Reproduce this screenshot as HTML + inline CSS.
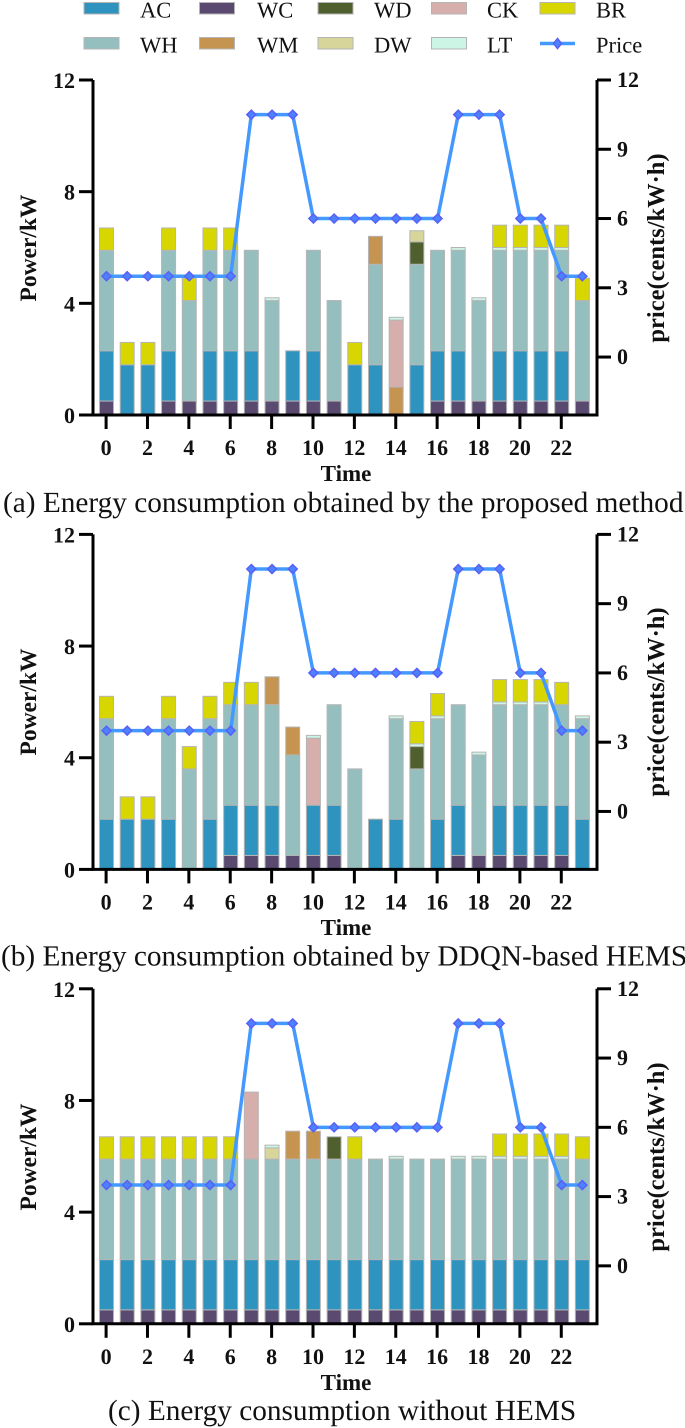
<!DOCTYPE html>
<html lang="en">
<head>
<meta charset="utf-8">
<title>Energy consumption comparison</title>
<style>
html,body{margin:0;padding:0;background:#fff;width:685px;height:1428px;overflow:hidden}
svg{display:block}
text{font-family:"Liberation Serif","DejaVu Serif",serif;fill:#111;text-rendering:geometricPrecision}
.leg{font-size:22.5px;dominant-baseline:central}
.tick{font-size:22px;font-weight:bold}
.title{font-size:23px;font-weight:bold}
.ptitle{font-size:23.5px;font-weight:bold}
.rtitle{font-size:24.5px;font-weight:bold}
.cap{font-size:29.3px}
</style>
</head>
<body>
<svg id="chart" xmlns="http://www.w3.org/2000/svg" width="685" height="1428" viewBox="0 0 685 1428">
  <g id="legend">
    <g><rect x="84" y="2.5" width="35" height="11.5" fill="#2e94bf" stroke="#b5b5b5"/><text class="leg" x="140" y="10">AC</text></g>
    <g><rect x="199.5" y="2.5" width="35" height="11.5" fill="#5a4a70" stroke="#b5b5b5"/><text class="leg" x="257" y="10">WC</text></g>
    <g><rect x="318" y="2.5" width="35" height="11.5" fill="#505f2e" stroke="#b5b5b5"/><text class="leg" x="374" y="10">WD</text></g>
    <g><rect x="431.5" y="2.5" width="35" height="11.5" fill="#d6aeac" stroke="#b5b5b5"/><text class="leg" x="487" y="10">CK</text></g>
    <g><rect x="540" y="2.5" width="35" height="11.5" fill="#d8d600" stroke="#b5b5b5"/><text class="leg" x="596" y="10">BR</text></g>
    <g><rect x="84" y="37.5" width="35" height="11.5" fill="#95bfbe" stroke="#b5b5b5"/><text class="leg" x="140" y="45">WH</text></g>
    <g><rect x="199.5" y="37.5" width="35" height="11.5" fill="#c59450" stroke="#b5b5b5"/><text class="leg" x="257" y="45">WM</text></g>
    <g><rect x="318" y="37.5" width="35" height="11.5" fill="#d8d59a" stroke="#b5b5b5"/><text class="leg" x="374" y="45">DW</text></g>
    <g><rect x="431.5" y="37.5" width="35" height="11.5" fill="#ccf5e6" stroke="#b5b5b5"/><text class="leg" x="487" y="45">LT</text></g>
    <g><line x1="540" y1="43.5" x2="575" y2="43.5" stroke="#4499ff" stroke-width="3.5"/><polygon points="557.5,38.5 561.5,43.5 557.5,48.5 553.5,43.5" fill="#4a82ff" stroke="#5a60f5" stroke-width="1.5"/><text class="leg" x="596" y="45">Price</text></g>
  </g>

  <text class="ptitle" text-anchor="middle" transform="translate(36 248) rotate(-90)">Power/kW</text>
  <text class="ptitle" text-anchor="middle" transform="translate(36 702) rotate(-90)">Power/kW</text>
  <text class="ptitle" text-anchor="middle" transform="translate(36 1157) rotate(-90)">Power/kW</text>

  <text class="rtitle" text-anchor="middle" transform="translate(664 248) rotate(-90)">price(cents/kW·h)</text>
  <text class="rtitle" text-anchor="middle" transform="translate(664 702) rotate(-90)">price(cents/kW·h)</text>
  <text class="rtitle" text-anchor="middle" transform="translate(664 1157) rotate(-90)">price(cents/kW·h)</text>

  <text class="title" text-anchor="middle" x="346" y="481">Time</text>
  <text class="title" text-anchor="middle" x="346" y="935">Time</text>
  <text class="title" text-anchor="middle" x="346" y="1390">Time</text>

  <text class="cap" x="3" y="512">(a) Energy consumption obtained by the proposed method</text>
  <text class="cap" x="1" y="965.5">(b) Energy consumption obtained by DDQN-based HEMS</text>
  <text class="cap" x="108" y="1420">(c) Energy consumption without HEMS</text>
</svg>
<script>
// Shared data
const hours = [0,1,2,3,4,5,6,7,8,9,10,11,12,13,14,15,16,17,18,19,20,21,22,23];
const hourTicks = [0,2,4,6,8,10,12,14,16,18,20,22];
const powerTicks = [0,4,8,12];
const priceTicks = [0,3,6,9,12];
const price = [3.5,3.5,3.5,3.5,3.5,3.5,3.5,10.5,10.5,10.5,6,6,6,6,6,6,6,10.5,10.5,10.5,6,6,3.5,3.5];

// Panel (a): proposed method
const aWC = [.5,0,0,.5,.5,.5,.5,.5,.5,.5,.5,.5,0,0,0,0,.5,.5,.5,.5,.5,.5,.5,.5];
const aAC = [1.8,1.8,1.8,1.8,0,1.8,1.8,1.8,0,1.8,1.8,0,1.8,1.8,0,1.8,1.8,1.8,0,1.8,1.8,1.8,1.8,0];
const aWH = [3.6,0,0,3.6,3.6,3.6,3.6,3.6,3.6,0,3.6,3.6,0,3.6,0,3.6,3.6,3.6,3.6,3.6,3.6,3.6,3.6,3.6];
const aWM = [0,0,0,0,0,0,0,0,0,0,0,0,0,1,1,0,0,0,0,0,0,0,0,0];
const aWD = [0,0,0,0,0,0,0,0,0,0,0,0,0,0,0,.8,0,0,0,0,0,0,0,0];
const aCK = [0,0,0,0,0,0,0,0,0,0,0,0,0,0,2.4,0,0,0,0,0,0,0,0,0];
const aDW = [0,0,0,0,0,0,0,0,0,0,0,0,0,0,0,.4,0,0,0,0,0,0,0,0];
const aLT = [0,0,0,0,0,0,0,0,.1,0,0,0,0,0,.1,0,0,.1,.1,.1,.1,.1,.1,0];
const aBR = [.8,.8,.8,.8,.8,.8,.8,0,0,0,0,0,.8,0,0,0,0,0,0,.8,.8,.8,.8,.8];

// Panel (b): DDQN-based HEMS
const bWC = [0,0,0,0,0,0,.5,.5,.5,.5,.5,.5,0,0,0,0,0,.5,.5,.5,.5,.5,.5,0];
const bAC = [1.8,1.8,1.8,1.8,0,1.8,1.8,1.8,1.8,0,1.8,1.8,0,1.8,1.8,0,1.8,1.8,0,1.8,1.8,1.8,1.8,1.8];
const bWH = [3.6,0,0,3.6,3.6,3.6,3.6,3.6,3.6,3.6,0,3.6,3.6,0,3.6,3.6,3.6,3.6,3.6,3.6,3.6,3.6,3.6,3.6];
const bWM = [0,0,0,0,0,0,0,0,1,1,0,0,0,0,0,0,0,0,0,0,0,0,0,0];
const bWD = [0,0,0,0,0,0,0,0,0,0,0,0,0,0,0,.8,0,0,0,0,0,0,0,0];
const bCK = [0,0,0,0,0,0,0,0,0,0,2.4,0,0,0,0,0,0,0,0,0,0,0,0,0];
const bDW = [0,0,0,0,0,0,0,0,0,0,0,0,0,0,0,0,0,0,0,0,0,0,0,0];
const bLT = [0,0,0,0,0,0,0,0,0,0,.1,0,0,0,.1,.1,.1,0,.1,.1,.1,.1,0,.1];
const bBR = [.8,.8,.8,.8,.8,.8,.8,.8,0,0,0,0,0,0,0,.8,.8,0,0,.8,.8,.8,.8,0];

// Panel (c): without HEMS
const cWC = [.5,.5,.5,.5,.5,.5,.5,.5,.5,.5,.5,.5,.5,.5,.5,.5,.5,.5,.5,.5,.5,.5,.5,.5];
const cAC = [1.8,1.8,1.8,1.8,1.8,1.8,1.8,1.8,1.8,1.8,1.8,1.8,1.8,1.8,1.8,1.8,1.8,1.8,1.8,1.8,1.8,1.8,1.8,1.8];
const cWH = [3.6,3.6,3.6,3.6,3.6,3.6,3.6,3.6,3.6,3.6,3.6,3.6,3.6,3.6,3.6,3.6,3.6,3.6,3.6,3.6,3.6,3.6,3.6,3.6];
const cWM = [0,0,0,0,0,0,0,0,0,1,1,0,0,0,0,0,0,0,0,0,0,0,0,0];
const cWD = [0,0,0,0,0,0,0,0,0,0,0,.8,0,0,0,0,0,0,0,0,0,0,0,0];
const cCK = [0,0,0,0,0,0,0,2.4,0,0,0,0,0,0,0,0,0,0,0,0,0,0,0,0];
const cDW = [0,0,0,0,0,0,0,0,.4,0,0,0,0,0,0,0,0,0,0,0,0,0,0,0];
const cLT = [0,0,0,0,0,0,0,0,.1,0,0,0,0,0,.1,0,0,.1,.1,.1,.1,.1,.1,0];
const cBR = [.8,.8,.8,.8,.8,.8,.8,0,0,0,0,0,.8,0,0,0,0,0,0,.8,.8,.8,.8,.8];

const seriesNames = ['WC','AC','WH','WM','WD','CK','DW','LT','BR'];
const seriesColors = ['#5a4a70','#2e94bf','#95bfbe','#c59450','#505f2e','#d6aeac','#d8d59a','#ccf5e6','#d8d600'];
const panelSeries = [
  [aWC,aAC,aWH,aWM,aWD,aCK,aDW,aLT,aBR],
  [bWC,bAC,bWH,bWM,bWD,bCK,bDW,bLT,bBR],
  [cWC,cAC,cWH,cWM,cWD,cCK,cDW,cLT,cBR]
];
const panelIds = ['a','b','c'];

const NS = 'http://www.w3.org/2000/svg';
const root = document.getElementById('chart');
const powerMax = 12, priceMax = 12, priceMin = -2.51;
const axisLeft = 93, axisRight = 597, plotHeight = 335;
const panelBottoms = [415, 869.4, 1323.8];

function make(parent, tag, attrs, text) {
  const el = document.createElementNS(NS, tag);
  for (const k in attrs) el.setAttribute(k, attrs[k]);
  if (text !== undefined) el.textContent = text;
  parent.appendChild(el);
  return el;
}
function xScale(h) { return 106.5 + h * 20.69; }

panelBottoms.forEach(function (y0, p) {
  const id = panelIds[p];
  const yPower = function (v) { return y0 - (v / powerMax) * plotHeight; };
  const yPrice = function (v) { return y0 - ((v - priceMin) / (priceMax - priceMin)) * plotHeight; };

  const g = make(root, 'g', {});
  
  

  // Stacked bars
  hours.forEach(function (h, i) {
    let acc = 0;
    panelSeries[p].forEach(function (arr, s) {
      const v = arr[i];
      if (!v) return;
      const top = yPower(acc + v), bottom = yPower(acc);
      const bar = make(g, 'rect', {
        x: xScale(h) - 7, y: top, width: 14, height: bottom - top,
        fill: seriesColors[s], stroke: '#b5b5b5', 'stroke-width': 1
      });
      
      
      acc += v;
    });
  });

  // Axes
  const axisPath = make(g, 'path', {
    d: 'M' + axisLeft + ' ' + yPower(powerMax) + 'V' + y0 + 'H' + axisRight + 'V' + yPower(powerMax),
    fill: 'none', stroke: '#000', 'stroke-width': 3
  });
  
  

  powerTicks.forEach(function (t) {
    const y = yPower(t);
    const tick = make(g, 'line', { x1: 79, x2: axisLeft, y1: y, y2: y, stroke: '#000', 'stroke-width': 3 });
    
    
    const label = make(g, 'text', { class: 'tick', x: 75, y: y + 8, 'text-anchor': 'end' }, t);
    
    
  });

  priceTicks.forEach(function (t) {
    const y = yPrice(t);
    const tick = make(g, 'line', { x1: axisRight, x2: 611, y1: y, y2: y, stroke: '#000', 'stroke-width': 3 });
    
    
    const label = make(g, 'text', { class: 'tick', x: 617, y: y + 7, 'text-anchor': 'start' }, t);
    
    
  });

  hourTicks.forEach(function (t) {
    const x = xScale(t) - 0.4;
    const tick = make(g, 'line', { x1: x, x2: x, y1: y0, y2: y0 + 14, stroke: '#000', 'stroke-width': 3 });
    
    
    const label = make(g, 'text', { class: 'tick', x: x, y: y0 + 40, 'text-anchor': 'middle' }, t);
    
    
  });

  // Price line
  const pts = hours.map(function (h, i) { return xScale(h) + ',' + yPrice(price[i]); }).join(' ');
  const line = make(g, 'polyline', { points: pts, fill: 'none', stroke: '#4499ff', 'stroke-width': 3.5, 'stroke-linejoin': 'round' });
  
  

  hours.forEach(function (h, i) {
    const x = xScale(h), y = yPrice(price[i]);
    const m = make(g, 'polygon', {
      points: x + ',' + (y - 4.5) + ' ' + (x + 4.5) + ',' + y + ' ' + x + ',' + (y + 4.5) + ' ' + (x - 4.5) + ',' + y,
      fill: '#4a82ff', stroke: '#5a60f5', 'stroke-width': 1.5
    });
    
    
  });
});
</script>
</body>
</html>
